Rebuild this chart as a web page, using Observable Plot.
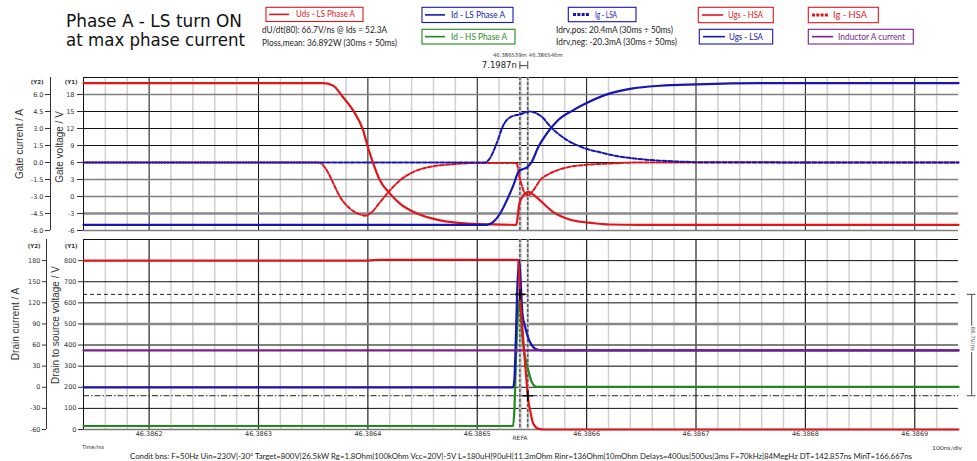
<!DOCTYPE html>
<html><head><meta charset="utf-8">
<script src="https://cdn.jsdelivr.net/npm/d3@7"></script>
<script src="https://cdn.jsdelivr.net/npm/@observablehq/plot@0.6"></script>
<style>
body{margin:0;background:#fff;}
#wrap{position:relative;width:977px;height:461px;overflow:hidden;background:#fff;}
#wrap svg{position:absolute;left:0;}
</style></head><body><div id="wrap"></div>
<script>
// ---------- DATA (time in ns after 46.3862 ms) ----------
const T0 = 46.3862;
const xDomain = [-60, 740];
const xMajor = [0, 100, 200, 300, 400, 500, 600, 700];
const cursors = [339, 346.1987];

// Top panel: gate voltages (V, Y1) and gate currents (A, Y2)
const ugsHsaT = [-60, 159, 168, 177, 186.5, 195.6, 200, 204.8, 211, 220, 229, 245, 266, 291, 321, 335.8, 337, 338.4, 340.5, 343, 346.7, 350, 357.4, 369.6, 385, 406, 421, 449, 740];
const ugsHsaV = [20, 20, 19.6, 17.6, 15.2, 11.7, 8.7, 5.9, 2.85, 0.55, -1.2, -3.0, -4.2, -4.76, -4.95, -5.0, -3.5, -1.3, -0.3, 0.4, 0.8, 0.5, -0.69, -2.76, -4.1, -4.7, -4.94, -5.0, -5.0];

const ugsLsaT = [-60, 309, 314.4, 320.8, 327, 333, 337.6, 340.7, 345.2, 349.8, 355.8, 363.5, 373.8, 387.8, 400, 421.4, 442.4, 467, 500.6, 558.5, 740];
const ugsLsaV = [-5, -5, -4.53, -3.04, -0.69, 1.96, 4.32, 4.74, 5.1, 6.09, 8.74, 11.1, 13.47, 15.24, 16.5, 18.2, 19.08, 19.54, 19.79, 20.0, 20.0];

const igLsaT = [-60, 307, 311.7, 317.8, 323.9, 330, 339.1, 348.3, 357.4, 369.6, 381.8, 397, 412.2, 421.4, 451.8, 482.4, 510, 740];
const igLsaA = [0, 0, 0.4, 1.7, 3.3, 3.98, 4.25, 4.5, 4.15, 2.9, 2.0, 1.3, 0.9, 0.68, 0.27, 0.09, 0.02, 0];

const igHsaT = [-60, 155, 162.4, 168.5, 174.6, 183.7, 192.9, 197.4, 203.6, 211.2, 220.3, 229.4, 241.6, 259.9, 278.2, 299.5, 336, 338.5, 340.7, 343.7, 346.5, 351.3, 357.4, 366.5, 381.8, 400, 421.4, 449, 740];
const igHsaA = [0, 0, -0.68, -1.86, -3.04, -4.07, -4.58, -4.69, -4.37, -3.49, -2.45, -1.57, -0.83, -0.33, -0.15, -0.04, -0.04, -1.27, -2.0, -2.74, -2.9, -2.45, -1.57, -0.97, -0.44, -0.2, -0.09, 0, 0];

// Bottom panel: drain-source voltage (V, Y1) and currents (A, Y2)
const udsT = [-60, 200, 210, 337.4, 338.2, 339.0, 340.7, 342.1, 343.7, 345.0, 346.2, 348.9, 351.3, 355.9, 362, 740];
const udsV = [800, 800, 804, 804, 740, 640, 519, 424, 313, 235, 160, 75, 27, 3, 0, 0];

const idLsT = [-60, 332.8, 334, 335.3, 336.6, 338.3, 339.8, 341.3, 343.7, 346.7, 349.8, 352.8, 357, 362, 740];
const idLsA = [0, 0, 12, 70, 140, 181, 148, 105, 86, 70, 60, 55, 52.8, 52.3, 52.3];

const idHsT = [-60, 332.8, 334, 335.5, 337.6, 338.5, 339.6, 340.7, 343.7, 346.7, 349.8, 354.4, 740];
const idHsA = [-55, -55, -30, 43, 115, 125, 110, 81, 43, 24, 7.6, 0.5, 0.5];

const indT = [-60, 740];
const indA = [52.3, 52.3];

// axis ticks
const topY1Ticks = [-6, -3, 0, 3, 6, 9, 12, 15, 18];
const botY1Ticks = [0, 100, 200, 300, 400, 500, 600, 700, 800];
const dvLevels = [640, 160]; // 80% / 20% of 800 V

// ---------- STYLE ----------
const W = 977, H = 461;
const red = "#e1161c", blue = "#1616b2", green = "#1f881f", purple = "#7a1f8e";
const xMinor = d3.range(-40, 740, 20).filter(v => v % 100 !== 0);
const zip = (t, v, f = d => d) => t.map((x, i) => ({t: x, v: f(v[i])}));
const topY = [-6, 21], botY = [0, 900];
const toTopY1 = a => 6 + 2 * a;          // gate current A -> Y1 scale
const toBotY1 = a => 200 + a * 10 / 3;  // drain current A -> Y1 scale
const lw = 2.2;
const tickFont = {fontFamily: "DejaVu Sans", fontSize: 6.5};

const wrap = document.getElementById("wrap");

// ---------- TOP PANEL ----------
const yTop = topY[1];
const topPlot = Plot.plot({
  width: W, height: 232,
  marginLeft: 83, marginRight: 19, marginTop: 77, marginBottom: 2,
  x: {domain: xDomain, axis: null},
  y: {domain: topY, axis: null},
  style: {fontFamily: "DejaVu Sans", fontSize: "6.5px", color: "#333", background: "transparent", overflow: "visible"},
  marks: [
    Plot.ruleX(xMinor, {stroke: "#d0d0d0", strokeWidth: 1.5}),
    Plot.ruleX(xMajor, {stroke: "#111", strokeWidth: 1}),
    Plot.ruleY([6, 9, 12, 15, 21], {stroke: "#111", strokeWidth: 1}),
    Plot.ruleY([18, 3, 0, -6], {stroke: "#808080", strokeWidth: 1.5}),
    Plot.ruleY([-3], {stroke: "#8a8a8a", strokeWidth: 2.5}),
    Plot.ruleX([xDomain[0]], {stroke: "#111"}),
    Plot.ruleX([xDomain[0]], {dx: -33, stroke: "#333"}),
    Plot.axisY(topY1Ticks, {anchor: "left", tickSize: 6, tickPadding: 3, label: null, tickFormat: v => String(v), ...tickFont}),
    Plot.axisY(topY1Ticks, {anchor: "left", dx: -33, tickSize: 5, tickPadding: 2, label: null, tickFormat: v => ((v - 6) / 2).toFixed(1), ...tickFont}),
    Plot.text(["(Y1)"], {frameAnchor: "top-left", textAnchor: "end", dx: -6, dy: 3, fontWeight: "bold", fontSize: 5.5}),
    Plot.text(["(Y2)"], {frameAnchor: "top-left", textAnchor: "end", dx: -40, dy: 3, fontWeight: "bold", fontSize: 5.5}),
    // cursors
    Plot.ruleX(cursors, {stroke: "#c8c8c8", strokeWidth: 2.5}),
    Plot.ruleX(cursors, {stroke: "#444", strokeWidth: 1.2, strokeDasharray: "3,2"}),
    Plot.ruleX(cursors, {y1: yTop + 1.4, y2: yTop + 2.8, stroke: "#444"}),
    Plot.ruleY([yTop + 2.1], {x1: cursors[0], x2: cursors[1], stroke: "#444"}),
    Plot.text([cursors[0]], {x: d => d, y: yTop + 2.2, text: () => (cursors[1] - cursors[0]).toFixed(4) + "n", textAnchor: "end", dx: -3, fontSize: 8.5, fill: "#222"}),
    Plot.text([cursors[0]], {x: cursors[1], y: yTop + 4, text: () => (T0 + cursors[0] * 1e-6).toFixed(6) + "m", textAnchor: "end", dx: -1, fontSize: 5.3, fill: "#333"}),
    Plot.text([cursors[1]], {x: d => d, y: yTop + 4, text: d => (T0 + d * 1e-6).toFixed(6) + "m", textAnchor: "start", dx: 1, fontSize: 5.3, fill: "#333"}),
    // data
    Plot.line(zip(igHsaT, igHsaA, toTopY1), {x: "t", y: "v", stroke: red, strokeWidth: 2, strokeDasharray: "4,2", curve: "monotone-x"}),
    Plot.line(zip(igLsaT, igLsaA, toTopY1), {x: "t", y: "v", stroke: blue, strokeWidth: 2, strokeDasharray: "4,2", strokeDashoffset: 3, curve: "monotone-x"}),
    Plot.line(zip(ugsHsaT, ugsHsaV), {x: "t", y: "v", stroke: red, strokeWidth: lw, curve: "monotone-x"}),
    Plot.line(zip(ugsLsaT, ugsLsaV), {x: "t", y: "v", stroke: blue, strokeWidth: lw, curve: "monotone-x"})
  ]
});
topPlot.style.top = "0px";
wrap.appendChild(topPlot);

// ---------- BOTTOM PANEL ----------
const xMax = xDomain[1];
const botPlot = Plot.plot({
  width: W, height: 229,
  marginLeft: 83, marginRight: 19, marginTop: 7, marginBottom: 32,
  x: {domain: xDomain, axis: null},
  y: {domain: botY, axis: null},
  style: {fontFamily: "DejaVu Sans", fontSize: "6.5px", color: "#333", background: "transparent", overflow: "visible"},
  marks: [
    Plot.ruleX(xMinor, {stroke: "#d0d0d0", strokeWidth: 1.5}),
    Plot.ruleX(xMajor, {stroke: "#222", strokeWidth: 1.2}),
    Plot.ruleY([100, 200, 600, 700, 800, 900], {stroke: "#111", strokeWidth: 1}),
    Plot.ruleY([300, 400], {stroke: "#555", strokeWidth: 1.5}),
    Plot.ruleY([500], {stroke: "#888", strokeWidth: 2.5}),
    Plot.ruleY([0], {stroke: "#777", strokeWidth: 1.5}),
    Plot.ruleY([dvLevels[0]], {stroke: "#222", strokeWidth: 1, strokeDasharray: "4,3"}),
    Plot.ruleY([dvLevels[1]], {stroke: "#222", strokeWidth: 1, strokeDasharray: "6,2,1.5,2"}),
    Plot.ruleX([xDomain[0]], {stroke: "#111"}),
    Plot.ruleX([xDomain[0]], {dx: -37, stroke: "#333"}),
    Plot.axisY(botY1Ticks, {anchor: "left", tickSize: 5, tickPadding: 2, label: null, tickFormat: v => String(v), ...tickFont}),
    Plot.axisY(botY1Ticks, {anchor: "left", dx: -37, tickSize: 4, tickPadding: 2, label: null, tickFormat: v => String(Math.round((v - 200) * 0.3)), ...tickFont}),
    Plot.axisX(xMajor, {anchor: "bottom", tickSize: 0, tickPadding: 2, label: null, tickFormat: v => (T0 + v * 1e-6).toFixed(4), ...tickFont}),
    Plot.text(["(Y1)"], {frameAnchor: "top-left", textAnchor: "end", dx: -6, dy: 5, fontWeight: "bold", fontSize: 5.5}),
    Plot.text(["(Y2)"], {frameAnchor: "top-left", textAnchor: "end", dx: -43, dy: 5, fontWeight: "bold", fontSize: 5.5}),
    Plot.text([cursors[0]], {x: d => d, frameAnchor: "bottom", dy: 10, text: () => "REFA", fontSize: 6, fill: "#333"}),
    // right bracket for dU/dt levels
    Plot.ruleX([xMax + 12], {y1: dvLevels[1], y2: dvLevels[0], stroke: "#666", strokeWidth: 1.2}),
    Plot.ruleY(dvLevels, {x1: xMax + 8, x2: xMax + 16, stroke: "#666", strokeWidth: 1.2}),
    Plot.text([xMax + 13], {x: d => d, y: 430, rotate: 90, text: () => ((dvLevels[0] - dvLevels[1]) / (cursors[1] - cursors[0])).toFixed(1) + "V/ns", fontSize: 5.5, fill: "#555", stroke: "white", strokeWidth: 3, paintOrder: "stroke"}),
    // cursors
    Plot.ruleX(cursors, {stroke: "#c8c8c8", strokeWidth: 2.5}),
    Plot.ruleX(cursors, {stroke: "#444", strokeWidth: 1.2, strokeDasharray: "3,2"}),
    // data
    Plot.line(zip(idHsT, idHsA, toBotY1), {x: "t", y: "v", stroke: green, strokeWidth: lw, curve: "monotone-x"}),
    Plot.line(zip(idLsT, idLsA, toBotY1), {x: "t", y: "v", stroke: blue, strokeWidth: lw, curve: "monotone-x"}),
    Plot.line(zip(indT, indA, toBotY1), {x: "t", y: "v", stroke: purple, strokeWidth: lw}),
    Plot.line(zip(udsT, udsV), {x: "t", y: "v", stroke: red, strokeWidth: lw, curve: "monotone-x"}),
    Plot.dot([0, 1], {x: i => cursors[i], y: i => dvLevels[i], symbol: "plus", r: 3.5, stroke: "#000", strokeWidth: 1.6})
  ]
});
botPlot.style.top = "232px";
wrap.appendChild(botPlot);

// ---------- TITLE, LEGEND, NOTES, AXIS TITLES ----------
const ov = d3.select(wrap).append("svg").attr("width", W).attr("height", H)
  .style("top", "0px").style("pointer-events", "none");

function txt(s, x, y, size, opt = {}) {
  const t = ov.append("text").attr("x", x).attr("y", y).text(s)
    .attr("font-family", opt.font || "Lato, 'Liberation Sans', sans-serif")
    .attr("font-size", size).attr("fill", opt.fill || "#222");
  if (opt.len) t.attr("textLength", opt.len).attr("lengthAdjust", "spacingAndGlyphs");
  if (opt.anchor) t.attr("text-anchor", opt.anchor);
  return t;
}
function vtitle(s, cx, cy) {
  ov.append("text").attr("transform", `translate(${cx},${cy}) rotate(-90)`)
    .attr("text-anchor", "middle").attr("dy", "0.35em")
    .attr("font-family", "'Liberation Sans', sans-serif").attr("font-size", 10)
    .attr("fill", "#333").text(s);
}
vtitle("Gate current / A", 19, 144);
vtitle("Gate voltage / V", 59, 147);
vtitle("Drain current / A", 15, 324);
vtitle("Drain to source voltage / V", 55, 325);

txt("Phase A - LS turn ON", 66, 27, 17, {font: "DejaVu Sans", fill: "#111", len: 176});
txt("at max phase current", 66, 46, 17, {font: "DejaVu Sans", fill: "#111", len: 179});

const legendItems = [
  {label: "Uds - LS Phase A", color: red, dash: null, box: [266, 7.3, 363, 21.5], line: [269, 289], text: [296, 355]},
  {label: "Id - LS Phase A", color: blue, dash: null, box: [422, 7.3, 513, 22.5], line: [425, 445], text: [451, 505]},
  {label: "Id - HS Phase A", color: green, dash: null, box: [422, 29.3, 515, 44], line: [425, 445], text: [451, 507]},
  {label: "Ig - LSA", color: blue, dash: "3,1.3", box: [568.3, 7.3, 636, 21.7], line: [573, 590], text: [595, 617]},
  {label: "Ugs - HSA", color: red, dash: null, box: [698.3, 7.3, 773.3, 22.7], line: [702, 723], text: [728, 763]},
  {label: "Ugs - LSA", color: blue, dash: null, box: [699.3, 29.3, 772.7, 44], line: [703, 725], text: [729, 763]},
  {label: "Ig - HSA", color: red, dash: "3,1.3", box: [808.3, 7.3, 878.3, 22.7], line: [812, 828], text: [833, 867]},
  {label: "Inductor A current", color: purple, dash: null, box: [808.3, 29.3, 913.3, 44], line: [812, 833], text: [838, 905]}
];
for (const it of legendItems) {
  const [x0, y0, x1, y1] = it.box;
  const cy = (y0 + y1) / 2;
  ov.append("rect").attr("x", x0).attr("y", y0).attr("width", x1 - x0).attr("height", y1 - y0)
    .attr("fill", "white").attr("stroke", it.color).attr("stroke-width", 1.1);
  ov.append("line").attr("x1", it.line[0]).attr("x2", it.line[1]).attr("y1", cy).attr("y2", cy)
    .attr("stroke", it.color).attr("stroke-width", it.dash ? 3 : 1.6).attr("stroke-dasharray", it.dash);
  txt(it.label, it.text[0], cy + 3, 8.5, {fill: it.color, len: it.text[1] - it.text[0]});
}

txt("dU/dt(80): 66.7V/ns @ Ids = 52.3A", 262, 33.3, 8.5, {len: 125});
txt("Ploss,mean: 36.892W (30ms \u00f7 50ms)", 262, 45.5, 8.5, {len: 135});
txt("Idrv,pos: 20.4mA (30ms \u00f7 50ms)", 556, 33.3, 8.5, {len: 117});
txt("Idrv,neg: -20.3mA (30ms \u00f7 50ms)", 556, 44.5, 8.5, {len: 121});

txt("Time/ms", 82, 449, 6.5, {fill: "#444", len: 22});
txt("100ns/div", 962, 450, 6.5, {fill: "#444", len: 30, anchor: "end"});
txt("Condit bns:  F=50Hz  Uin=230V|-30\u00b0  Target=800V|26.5kW  Rg=1.8Ohm|100kOhm  Vcc=20V|-5V  L=180uH|90uH|11.3mOhm  Rinr=136Ohm|10mOhm  Delays=400us|500us|3ms  F=70kHz|84MegHz  DT=142.857ns  MinT=166.667ns",
  130, 458.5, 7.5, {fill: "#222", len: 782});
</script></body></html>
